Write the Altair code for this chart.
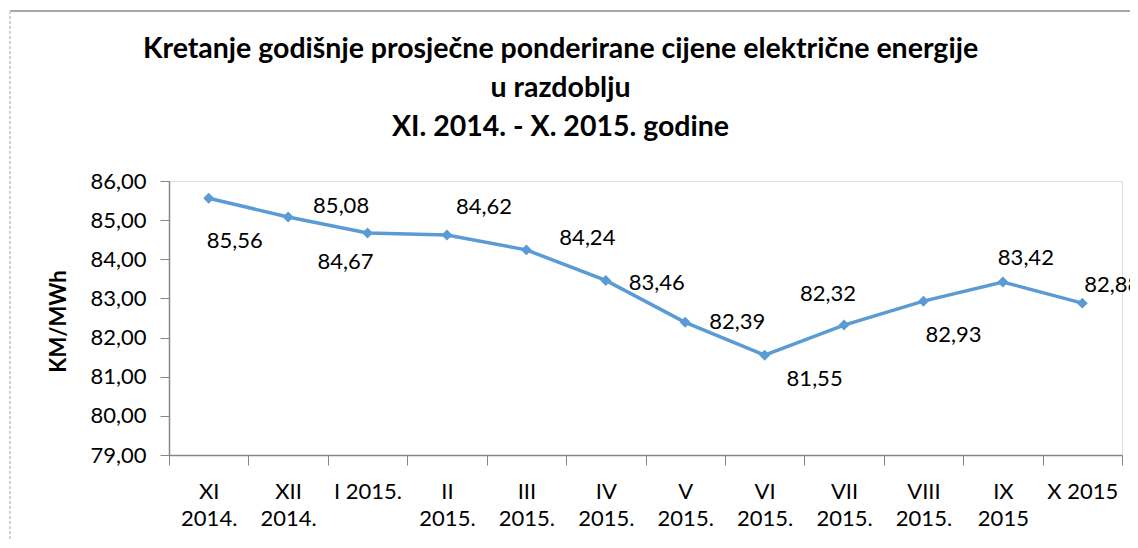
import altair as alt
import pandas as pd

categories = ["XI\n2014.", "XII\n2014.", "I 2015.", "II\n2015.", "III\n2015.", "IV\n2015.",
              "V\n2015.", "VI\n2015.", "VII\n2015.", "VIII\n2015.", "IX\n2015", "X 2015"]
prices = [85.56, 85.08, 84.67, 84.62, 84.24, 83.46, 82.39, 81.55, 82.32, 82.93, 83.42, 82.88]

title_lines = ["Kretanje godišnje prosječne ponderirane cijene električne energije",
               "u razdoblju",
               "XI. 2014. - X. 2015. godine"]
y_title = "KM/MWh"
y_ticks = [79, 80, 81, 82, 83, 84, 85, 86]

df = pd.DataFrame({"mjesec": categories, "cijena": prices})

# label offsets (dx, dy) in pixels relative to each point, in category order
label_offsets = [(26, 43), (53, -11), (-22, 29), (37, -28), (61, -12), (51, 3),
                 (52, 0), (50, 24), (-16, -31), (30, 34), (23, -24), (30, -18)]

FONT = "Lato"
LINE = "#5B9BD5"
AXIS = "#868686"

x_axis = alt.Axis(labelExpr="split(datum.label, '\\n')", labelAngle=0,
                  labelFontSize=22, labelFont=FONT, labelColor="black",
                  labelLineHeight=27, labelPadding=16, labelBaseline="top",
                  labelOverlap=False,
                  tickBand="extent", tickSize=10, tickColor=AXIS,
                  domainColor=AXIS, domainWidth=1.5, grid=False)
y_axis = alt.Axis(values=y_ticks, tickCount=8,
                  labelExpr="replace(format(datum.value, '.2f'), '.', ',')",
                  labelFontSize=22, labelFont=FONT, labelColor="black",
                  labelOverlap=False, labelBound=False, labelFlush=False,
                  labelPadding=14, tickSize=9, tickColor=AXIS,
                  domainColor=AXIS, domainWidth=1.5, grid=False,
                  titleFont=FONT, titleFontSize=22, titleFontWeight="bold",
                  titleColor="black", titleAngle=-90, titleX=-111, titleY=140,
                  titleAlign="center", titleBaseline="middle")

x_enc = alt.X("mjesec:N", sort=categories, title=None,
              scale=alt.Scale(paddingInner=0, paddingOuter=0), axis=x_axis)
y_enc = alt.Y("cijena:Q", title=y_title,
              scale=alt.Scale(domain=[79, 86], nice=False, zero=False), axis=y_axis)

base = alt.Chart(df)

line = base.mark_line(color=LINE, strokeWidth=3.5,
                      point=alt.OverlayMarkDef(shape="diamond", size=120, filled=True,
                                               color=LINE)).encode(x=x_enc, y=y_enc)

layers = [line]
for cat, (dx, dy) in zip(categories, label_offsets):
    layers.append(
        base.transform_filter(alt.datum.mjesec == cat)
        .transform_calculate(lbl="replace(format(datum.cijena, '.2f'), '.', ',')")
        .mark_text(font=FONT, fontSize=22, color="black", dx=dx, dy=dy,
                   align="center", baseline="middle")
        .encode(x=x_enc, y=y_enc, text="lbl:N")
    )

# chart frame (top border line and dashed left edge)
frame_top = alt.Chart(df).mark_rule(color="#a6a6a6", strokeWidth=1).encode(
    x=alt.value(-159), x2=alt.value(961), y=alt.value(-170))
frame_left = alt.Chart(df).mark_rule(color="#d0d0d0", strokeWidth=1, strokeDash=[3, 2]).encode(
    x=alt.value(-159), y=alt.value(-170), y2=alt.value(359))
layers += [frame_top, frame_left]

chart = alt.layer(*layers).properties(
    width=953, height=274,
    title=alt.TitleParams(text=title_lines, font=FONT, fontSize=28.5, fontWeight="bold",
                          color="black", lineHeight=39, anchor="middle", dx=-85,
                          frame="group", baseline="bottom", offset=-160),
    autosize=alt.AutoSizeParams(type="none"),
    padding={"left": 161, "top": 173, "right": 8, "bottom": 85},
).configure_view(stroke=None).configure(background="white")

chart.save("out.html", embed_options={"renderer": "svg", "actions": False})
